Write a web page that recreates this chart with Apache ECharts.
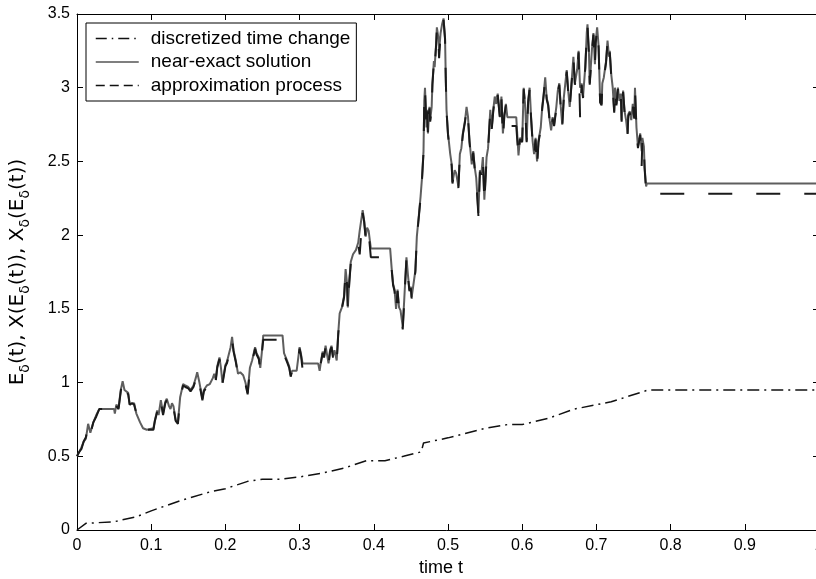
<!DOCTYPE html>
<html><head><meta charset="utf-8">
<script src="https://cdn.jsdelivr.net/npm/echarts@6/dist/echarts.min.js"></script>
<style>html,body{margin:0;padding:0;background:#fff}#c{width:816px;height:579px}</style>
</head><body><div id="c"></div>
<script>
// ---- data ----
const xTicks = [0, 0.1, 0.2, 0.3, 0.4, 0.5, 0.6, 0.7, 0.8, 0.9, 1];
const yTicks = [0, 0.5, 1, 1.5, 2, 2.5, 3, 3.5];
const seriesNames = ['discretized time change', 'near-exact solution', 'approximation process'];

const changeT = [0, 0.012, 0.05, 0.08, 0.1, 0.14, 0.18, 0.2, 0.23, 0.25, 0.275, 0.3, 0.33, 0.36, 0.39, 0.415, 0.44, 0.464, 0.467, 0.5, 0.55, 0.58, 0.6, 0.635, 0.67, 0.72, 0.77, 1];
const changeE = [0, 0.045, 0.056, 0.09, 0.13, 0.2, 0.26, 0.28, 0.33, 0.345, 0.345, 0.36, 0.385, 0.42, 0.47, 0.47, 0.5, 0.53, 0.59, 0.625, 0.69, 0.715, 0.715, 0.757, 0.82, 0.87, 0.95, 0.95];

const timeT = [0.000,0.003,0.006,0.009,0.012,0.015,0.018,0.022,0.026,0.030,0.050,0.051,0.053,0.056,0.059,0.0615,0.064,0.066,0.069,0.071,0.074,0.077,0.080,0.085,0.089,0.094,0.103,0.105,0.108,0.110,0.113,0.116,0.119,0.121,0.124,0.126,0.128,0.130,0.133,0.136,0.139,0.143,0.146,0.150,0.153,0.157,0.160,0.162,0.165,0.169,0.171,0.175,0.179,0.183,0.185,0.187,0.189,0.192,0.194,0.196,0.200,0.202,0.204,0.207,0.209,0.211,0.214,0.217,0.220,0.224,0.227,0.230,0.233,0.236,0.240,0.242,0.245,0.247,0.249,0.251,0.277,0.279,0.283,0.286,0.288,0.290,0.296,0.300,0.302,0.304,0.325,0.327,0.329,0.331,0.333,0.335,0.337,0.339,0.341,0.343,0.345,0.347,0.350,0.352,0.354,0.357,0.360,0.362,0.364,0.365,0.367,0.369,0.371,0.372,0.376,0.379,0.381,0.385,0.387,0.389,0.391,0.393,0.396,0.422,0.424,0.426,0.428,0.430,0.432,0.434,0.436,0.439,0.441,0.444,0.446,0.448,0.450,0.451,0.453,0.456,0.458,0.461,0.463,0.465,0.467,0.468,0.469,0.471,0.472,0.473,0.475,0.476,0.478,0.479,0.481,0.482,0.484,0.485,0.487,0.488,0.490,0.492,0.494,0.496,0.497,0.498,0.500,0.503,0.505,0.506,0.509,0.511,0.514,0.516,0.518,0.520,0.523,0.525,0.527,0.529,0.532,0.534,0.536,0.538,0.541,0.543,0.545,0.547,0.549,0.552,0.554,0.557,0.559,0.561,0.563,0.565,0.567,0.570,0.572,0.574,0.576,0.578,0.580,0.592,0.595,0.597,0.600,0.602,0.604,0.606,0.608,0.610,0.612,0.614,0.616,0.618,0.620,0.622,0.625,0.627,0.629,0.631,0.633,0.635,0.637,0.639,0.641,0.643,0.646,0.648,0.650,0.652,0.654,0.656,0.660,0.662,0.664,0.666,0.669,0.671,0.674,0.676,0.678,0.680,0.682,0.685,0.687,0.688,0.690,0.691,0.694,0.696,0.698,0.699,0.701,0.703,0.705,0.707,0.708,0.710,0.713,0.715,0.717,0.718,0.720,0.722,0.724,0.725,0.727,0.729,0.731,0.733,0.734,0.736,0.738,0.740,0.742,0.743,0.745,0.747,0.749,0.751,0.752,0.754,0.756,0.759,0.761,0.762,0.764,0.765,0.767,0.768,1.000];

const nearExact = [0.50,0.53,0.56,0.60,0.62,0.72,0.66,0.73,0.78,0.82,0.82,0.79,0.85,0.83,0.95,1.01,0.95,0.94,0.93,0.85,0.86,0.86,0.79,0.73,0.69,0.68,0.69,0.745,0.81,0.78,0.88,0.79,0.87,0.89,0.84,0.82,0.86,0.84,0.745,0.73,0.90,0.99,0.98,0.97,0.95,0.98,1.03,1.07,1.00,0.89,0.95,0.98,0.99,1.03,1.06,1.02,1.11,1.17,1.10,1.00,1.12,1.14,1.15,1.24,1.31,1.22,1.15,1.06,1.07,1.05,1.00,0.93,1.10,1.15,1.24,1.20,1.17,1.10,1.20,1.32,1.32,1.20,1.15,1.11,1.05,1.08,1.08,1.24,1.19,1.13,1.13,1.08,1.15,1.21,1.18,1.25,1.19,1.13,1.22,1.25,1.18,1.22,1.15,1.33,1.47,1.51,1.59,1.77,1.67,1.51,1.69,1.82,1.82,1.87,1.90,1.95,2.03,2.17,2.10,1.99,2.05,2.03,1.91,1.91,1.78,1.67,1.63,1.50,1.63,1.51,1.49,1.38,1.56,1.85,1.73,1.63,1.65,1.58,1.65,1.76,1.99,2.15,2.26,2.39,2.57,2.91,3.00,2.73,2.85,2.69,2.87,2.78,2.87,3.03,3.18,3.14,3.30,3.41,3.34,3.25,3.37,3.43,3.47,3.34,3.07,2.85,2.69,2.55,2.48,2.36,2.44,2.42,2.33,2.55,2.59,2.69,2.78,2.87,2.80,2.64,2.48,2.57,2.46,2.39,2.15,2.44,2.42,2.53,2.24,2.53,2.59,2.85,2.73,2.85,2.94,2.89,2.96,2.80,2.94,2.69,2.82,2.89,2.80,2.80,2.54,2.66,2.64,3.00,2.88,2.64,2.91,3.00,2.80,2.64,2.55,2.66,2.50,2.64,2.73,2.87,2.96,3.07,2.93,2.89,2.78,2.71,2.80,2.75,2.87,2.98,3.03,2.87,2.75,2.93,3.12,2.98,2.87,3.00,3.21,3.03,3.12,3.25,3.00,3.03,2.94,3.14,3.37,3.43,3.23,3.03,3.26,3.37,3.16,3.31,3.41,3.28,2.91,2.89,3.03,3.07,3.18,3.32,3.21,3.25,3.09,3.00,2.84,3.00,2.89,3.00,2.91,2.96,2.78,2.98,2.84,2.78,2.69,2.82,2.84,2.78,2.89,2.80,3.00,2.73,2.60,2.69,2.57,2.66,2.60,2.46,2.33,2.35,2.35];

const approxProc = [0.50,0.53,0.55,0.60,0.63,0.71,0.65,0.73,0.77,0.82,0.82,0.79,0.84,0.82,0.94,1.02,0.95,0.94,0.92,0.85,0.86,0.85,0.79,0.73,0.69,0.68,0.68,0.74,0.80,0.77,0.87,0.78,0.86,0.88,0.83,0.81,0.85,0.83,0.74,0.72,0.89,0.98,0.97,0.96,0.94,0.97,1.02,1.06,0.99,0.88,0.94,0.97,0.98,1.02,1.05,1.01,1.10,1.16,1.09,0.99,1.11,1.13,1.14,1.23,1.29,1.21,1.14,1.05,1.06,1.04,0.99,0.92,1.09,1.14,1.23,1.19,1.16,1.09,1.19,1.29,1.29,1.19,1.14,1.10,1.04,1.08,1.08,1.23,1.18,1.09,1.09,1.08,1.14,1.20,1.17,1.24,1.18,1.12,1.21,1.24,1.17,1.21,1.14,1.32,1.46,1.50,1.58,1.76,1.66,1.50,1.68,1.81,1.81,1.86,1.89,1.94,1.87,2.15,2.09,1.98,2.04,2.02,1.85,1.85,1.77,1.66,1.62,1.49,1.62,1.50,1.48,1.36,1.55,1.84,1.72,1.62,1.64,1.57,1.64,1.75,1.98,2.14,2.25,2.38,2.56,2.90,2.99,2.72,2.84,2.68,2.86,2.77,2.86,3.02,3.17,3.13,3.29,3.40,3.33,3.20,3.36,3.42,3.46,3.33,3.06,2.84,2.68,2.54,2.47,2.35,2.43,2.41,2.32,2.54,2.58,2.68,2.77,2.86,2.79,2.63,2.47,2.56,2.45,2.38,2.13,2.43,2.41,2.52,2.22,2.52,2.58,2.84,2.72,2.84,2.93,2.88,2.95,2.79,2.93,2.66,2.81,2.88,2.74,2.74,2.53,2.65,2.63,2.99,2.87,2.63,2.90,2.99,2.79,2.63,2.54,2.65,2.46,2.63,2.72,2.86,2.95,3.06,2.92,2.88,2.77,2.70,2.79,2.74,2.86,2.97,3.02,2.86,2.74,2.92,3.11,2.97,2.86,2.99,3.20,3.02,3.11,3.24,2.80,3.02,2.93,3.13,3.36,3.42,3.22,3.02,3.25,3.36,3.15,3.30,3.40,3.27,2.90,2.88,3.02,3.06,3.17,3.31,3.20,3.24,3.08,2.99,2.83,2.99,2.88,2.99,2.90,2.95,2.77,2.97,2.83,2.77,2.68,2.81,2.83,2.77,2.88,2.79,2.99,2.72,2.59,2.68,2.47,2.65,2.59,2.45,2.30,2.28,2.28];

// ---- build ----
const pairs = (xs, ys) => xs.map((x, i) => [x, ys[i]]);
const xMin = xTicks[0], xMax = xTicks[xTicks.length - 1], xInt = +(xTicks[1] - xTicks[0]).toFixed(6);
const yMin = yTicks[0], yMax = yTicks[yTicks.length - 1], yInt = +(yTicks[1] - yTicks[0]).toFixed(6);
const FONT = '"Liberation Sans", Arial, Helvetica, sans-serif';
const WIDE = '"DejaVu Sans", "Liberation Sans", sans-serif';

const baseAxisX = {
  type: 'value', min: xMin, max: xMax, interval: xInt,
  axisLine: { show: true, onZero: false, lineStyle: { color: '#000', width: 1 } },
  axisTick: { show: true, inside: true, length: 6, lineStyle: { color: '#000' } },
  splitLine: { show: false }
};
const baseAxisY = {
  type: 'value', min: yMin, max: yMax, interval: yInt,
  axisLine: { show: true, onZero: false, lineStyle: { color: '#000', width: 1 } },
  axisTick: { show: true, inside: true, length: 6, lineStyle: { color: '#000' } },
  splitLine: { show: false }
};

const chart = echarts.init(document.getElementById('c'), null, { renderer: 'canvas' });
chart.setOption({
  animation: false,
  backgroundColor: '#fff',
  textStyle: { fontFamily: FONT },
  grid: { left: 77, top: 14, width: 742, bottom: 49, containLabel: false, outerBoundsMode: 'none' },
  legend: {
    orient: 'vertical', left: 86, top: 23,
    padding: [6, 6, 6, 9], itemGap: 4.5,
    itemWidth: 43, itemHeight: 14,
    backgroundColor: '#fff', borderColor: '#000', borderWidth: 1, borderRadius: 0,
    textStyle: { fontSize: 19, color: '#000', fontFamily: FONT, padding: [0, 0, 0, 7] },
    data: [
      { name: seriesNames[0], itemStyle: { opacity: 0 }, lineStyle: { type: [11, 5, 1.5, 5], width: 1.5, color: '#111' } },
      { name: seriesNames[1], itemStyle: { opacity: 0 }, lineStyle: { type: 'solid', width: 1.5, color: '#555' } },
      { name: seriesNames[2], itemStyle: { opacity: 0 }, lineStyle: { type: [9, 5], width: 1.5, color: '#111' } }
    ]
  },
  xAxis: [
    Object.assign({}, baseAxisX, {
      position: 'bottom',
      name: 'time t', nameLocation: 'middle', nameGap: 27,
      nameTextStyle: { fontSize: 18, color: '#000', fontFamily: FONT, padding: [0, 14, 0, 0] },
      axisLabel: { show: true, color: '#000', fontSize: 16, margin: 8, fontFamily: FONT }
    }),
    Object.assign({}, baseAxisX, { position: 'top', axisLabel: { show: false } })
  ],
  yAxis: [
    Object.assign({}, baseAxisY, {
      position: 'left',
      name: '{a|E}{s|δ}{a|(t), X(E}{s|δ}{a|(t)), X}{s|δ}{a|(E}{s|δ}{a|(t))}',
      nameLocation: 'middle', nameRotate: 90, nameGap: 45,
      nameTextStyle: {
        color: '#000', fontFamily: WIDE,
        rich: {
          a: { fontSize: 20, lineHeight: 28, color: '#000', fontFamily: WIDE },
          s: { fontSize: 14, lineHeight: 14, verticalAlign: 'bottom', color: '#000', fontFamily: WIDE }
        }
      },
      axisLabel: { show: true, color: '#000', fontSize: 16, margin: 7, fontFamily: FONT }
    }),
    Object.assign({}, baseAxisY, { position: 'right', axisLabel: { show: false } })
  ],
  series: [
    {
      name: seriesNames[0], type: 'line', xAxisIndex: 0, yAxisIndex: 0,
      data: pairs(changeT, changeE), symbol: 'none', showSymbol: false, z: 2,
      itemStyle: { color: '#111' },
      lineStyle: { color: '#111', width: 1.5, type: [12, 5, 2, 5] }
    },
    {
      name: seriesNames[1], type: 'line', xAxisIndex: 0, yAxisIndex: 0,
      data: pairs(timeT, nearExact), symbol: 'none', showSymbol: false, z: 3,
      itemStyle: { color: '#5e5e5e' },
      lineStyle: { color: '#5e5e5e', width: 2, type: 'solid' }
    },
    {
      name: seriesNames[2], type: 'line', xAxisIndex: 0, yAxisIndex: 0,
      data: pairs(timeT, approxProc), symbol: 'none', showSymbol: false, z: 4,
      itemStyle: { color: '#1a1a1a' },
      lineStyle: { color: '#1a1a1a', width: 2, type: [24, 24] }
    }
  ]
});
</script></body></html>
